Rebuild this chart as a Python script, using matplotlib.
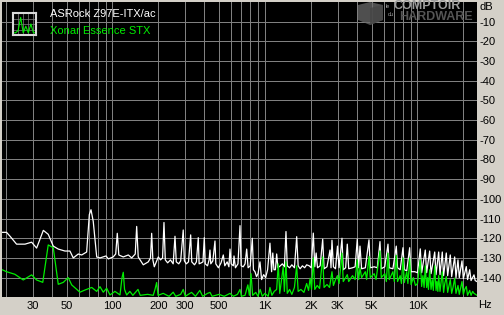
import matplotlib
matplotlib.use("Agg")
import matplotlib.pyplot as plt
from matplotlib.patches import Polygon

plt.rcParams['font.family'] = ['Liberation Sans', 'DejaVu Sans']

# noise spectrum, ASRock Z97E-ITX/ac (white)
white_hz = [18.9, 20.2, 21.3, 23.5, 26.7, 29.5, 31.8, 35.2, 37.9, 40.9,
            44.1, 48.8, 52.6, 55.3, 59.7, 62.8, 67.7, 70.5, 72.3, 74.8,
            78.8, 82.8, 90.7, 93.9, 101, 105, 107.5, 110, 117.7, 127,
            133.6, 141, 144.1, 147.5, 159.2, 171.7, 177.5, 180.7, 184, 188,
            199.7, 206.5, 213, 217.6, 222, 230, 240, 250, 257, 262,
            272, 280, 291, 296, 305, 315, 325.6, 331, 345, 355,
            365.2, 370, 382, 392, 399.9, 406, 420, 430, 435.8, 441,
            455, 470, 476, 495, 515, 532.9, 545, 565, 580, 589.6,
            600, 620, 626.3, 640, 665, 685.7, 698, 720, 740, 758.6,
            775, 800, 825.5, 840, 860, 880, 900, 927.3, 950, 980,
            1010, 1040, 1078, 1105, 1125, 1145, 1170, 1193, 1215, 1260,
            1300, 1340, 1373, 1400, 1450, 1500, 1560, 1614, 1650, 1700,
            1760, 1820, 1876, 1950, 2010, 2074, 2120, 2165, 2210, 2300,
            2390, 2440, 2550, 2670, 2710, 2750, 2810, 2900, 2988, 3060,
            3198, 3260, 3380, 3465, 3540, 3750, 3900, 4029, 4110, 4198,
            4300, 4550, 4808, 4900, 5200, 5450, 5677, 5790, 6100, 6406,
            6530, 6900, 7261, 7400, 7700, 8035, 8200, 8500, 8887, 9070,
            9600, 10000, 10430, 10650, 11250, 11480, 12020, 12270, 12970, 13230,
            13770, 14050, 14540, 14830, 15450, 15770, 16410, 16750, 17530, 17880,
            18430, 18800, 19580, 19980, 20890, 21300, 21990, 22450, 23470, 23900,
            24550]
white_db = [-117, -117, -119, -123, -123, -122, -125, -116, -118, -124,
            -125.5, -126.5, -126.5, -130, -128, -128.5, -127, -108, -105.5, -111.5,
            -129.5, -130, -129, -130.5, -129.5, -128, -117.5, -128.5, -129.5, -128.5,
            -130, -128, -114, -129.5, -133.5, -132, -130, -117.5, -131, -134.5,
            -129.5, -131, -130, -112, -131, -132.5, -131, -133, -119, -132,
            -133, -131.5, -115.8, -131.5, -133, -132, -118.3, -132, -133.5, -132,
            -119.7, -133, -132.5, -132, -119.7, -133, -134, -131, -126, -133,
            -131.5, -121.4, -133, -135, -132.5, -128.5, -134, -132, -134.5, -125.5,
            -133, -134, -129, -135, -133, -113.6, -134, -134.5, -133, -125.5,
            -135, -134, -120, -136, -137, -139.5, -138, -132, -141, -138.5,
            -140, -136, -122.5, -137, -127.5, -136, -136, -128, -135, -134,
            -133, -134.5, -116.6, -134, -135, -133.5, -135, -119.2, -134, -135.5,
            -134, -135, -133.5, -134, -135, -117.4, -134.5, -127.5, -135, -134,
            -120.5, -135.5, -134.5, -126, -135, -121, -134.5, -135.5, -124, -135,
            -120, -136, -135, -123, -135.5, -135, -134.5, -120.4, -135, -124,
            -135.5, -135, -120.8, -135, -134.5, -135, -121.7, -135.5, -134.5, -123,
            -135, -135.5, -124, -135, -136, -124.8, -136, -136.5, -124.8, -137,
            -137, -137.5, -125.4, -137.5, -126, -137.5, -126.5, -138, -127, -138.5,
            -127, -138.5, -127, -139, -127.5, -139, -128.5, -139.5, -129.5, -140,
            -131, -140, -131.5, -140.5, -134.4, -141, -136, -141.5, -138.6, -141.5,
            -142]

# noise spectrum, Xonar Essence STX (green)
green_hz = [18.9, 20.2, 22.9, 26, 29.5, 31.8, 34.9, 37.9, 40.9, 44.1,
            47.6, 51.3, 54, 61.2, 66, 73.1, 78.8, 82.8, 87, 91.6,
            96.3, 103.8, 112, 115.5, 117.7, 120, 123.9, 130, 136, 147,
            152, 170, 185, 190, 194.8, 199, 215, 235, 250, 260,
            280, 291, 300, 330, 350, 374, 390, 420, 436, 450,
            500, 540, 590, 620, 660, 686, 700, 740, 772, 790,
            810, 830, 870, 900, 930, 960, 1000, 1050, 1078, 1110,
            1150, 1193, 1222, 1250, 1317, 1340, 1373, 1400, 1450, 1500,
            1560, 1614, 1650, 1720, 1800, 1876, 1930, 1977, 2020, 2074,
            2120, 2200, 2280, 2390, 2440, 2550, 2650, 2750, 2810, 2900,
            2988, 3060, 3198, 3260, 3380, 3465, 3540, 3750, 3900, 4029,
            4110, 4198, 4300, 4550, 4640, 4808, 4900, 5200, 5350, 5677,
            5790, 6100, 6250, 6406, 6530, 6900, 7050, 7261, 7400, 7700,
            7850, 8035, 8200, 8500, 8650, 8887, 9070, 9400, 9700, 10000,
            10430, 10650, 10850, 11050, 11250, 11480, 11650, 11800, 12020, 12270,
            12500, 12700, 12970, 13230, 13400, 13600, 13770, 14050, 14300, 14540,
            14830, 15100, 15450, 15770, 16100, 16410, 16750, 17100, 17530, 17880,
            18430, 18800, 19580, 19980, 20400, 20890, 21300, 21990, 22450, 23000,
            23470, 24550]
green_db = [-136, -137, -138.3, -141.2, -138.6, -141.2, -142.4, -123.4, -124.8, -143.4,
            -142.4, -140, -143.7, -147.4, -146.3, -145, -147, -144.6, -147.4, -145.4,
            -148.8, -147, -148.8, -140, -137.3, -146, -148.8, -147, -149, -146,
            -149, -148.5, -149, -146, -142.5, -149, -148, -149.5, -147.4, -149.5,
            -148.5, -146, -149.5, -147.5, -149.5, -146.5, -149.5, -148, -147.5, -149.5,
            -148.5, -149.5, -148, -149.5, -148.5, -146, -149.5, -149, -143.7, -149,
            -138, -149, -147.5, -149.5, -146, -149.5, -148, -149.5, -145, -149,
            -147, -146, -133, -148, -134.5, -147, -132, -148, -146, -148.5,
            -145, -134, -147, -146, -147.5, -143, -146.5, -140.3, -146, -130,
            -146, -144, -145.5, -129.5, -145, -143.5, -145, -137, -144, -141,
            -139, -143, -127.6, -142, -140, -138.5, -142, -139, -141, -131,
            -141, -135, -140, -137, -141, -129.3, -140, -138, -141, -126.4,
            -140, -138, -142, -127.6, -141, -137, -142, -128.7, -142, -139,
            -143, -130, -142.5, -137, -143, -130.2, -143.5, -140, -144, -143,
            -131, -144.5, -139, -145, -134, -145, -140, -146, -136, -146,
            -141, -146.5, -134, -146.5, -142, -147, -139, -147, -142, -137,
            -147.5, -143, -139.5, -147.5, -144, -141, -148, -145, -140.3, -148,
            -144, -148.5, -142, -148.5, -146, -144.5, -149, -146.5, -149, -147,
            -148, -149]

grid_hz = [20, 30, 40, 50, 60, 70, 80, 90, 100, 200, 300, 400, 500, 600, 700,
           800, 900, 1000, 2000, 3000, 4000, 5000, 6000, 7000, 8000, 9000,
           10000, 20000]
label_hz = [30, 50, 100, 200, 300, 500, 1000, 2000, 3000, 5000, 10000]
label_txt = ['30', '50', '100', '200', '300', '500', '1K', '2K', '3K', '5K', '10K']
db_ticks = list(range(-10, -150, -10))

icon_db = [-9, -9, -8, -2, -9, -6, -9, -5, -9, -9]

W, H = 504, 315
FS = 8
fig = plt.figure(figsize=(W / 100, H / 100), dpi=100, facecolor='#d4d0c8')
ax = fig.add_axes([2 / W, 1 - 297.3 / H, 475 / W, 295.3 / H])
ax.set_facecolor('black')
ax.set_xscale('log')
ax.set_xlim(18.86, 24560)
ax.set_ylim(-150, 0)

for f in grid_hz:
    ax.axvline(f, color='#808080', lw=0.72, zorder=0)
for d in db_ticks:
    ax.axhline(d, color='#808080', lw=0.72, zorder=0)

ax.plot(white_hz, white_db, color='white', lw=0.9, zorder=2)
ax.plot(green_hz, green_db, color='#00ee00', lw=0.9, zorder=3)

for s in ax.spines.values():
    s.set_visible(False)

ax.set_xticks(label_hz, labels=label_txt)
ax.set_xticks([], minor=True)
ax.tick_params(axis='x', length=0, pad=3, labelsize=FS, colors='black')
ax.yaxis.tick_right()
ax.set_yticks(db_ticks, labels=[str(d) for d in db_ticks])
ax.tick_params(axis='y', length=0, pad=2, labelsize=FS, colors='black')

fig.text(480 / W, 1 - 7 / H, 'dB', fontsize=FS, va='center', ha='left')
fig.text(478 / W, 1 - 305.5 / H, 'Hz', fontsize=FS, va='center', ha='left')

# legend
fig.text(50 / W, 1 - 14 / H, 'ASRock Z97E-ITX/ac', color='white', fontsize=FS,
         va='center', ha='left')
fig.text(50 / W, 1 - 31.5 / H, 'Xonar Essence STX', color='#00ee00', fontsize=FS,
         va='center', ha='left')
iax = fig.add_axes([13 / W, 1 - 35 / H, 23 / W, 22 / H])
iax.set_facecolor('black')
iax.set_xlim(0, 9)
iax.set_ylim(-10, 0)
for v in [2, 4, 6, 8]:
    iax.axvline(v, color='#808080', lw=0.5)
for v in [-2.5, -5, -7.5]:
    iax.axhline(v, color='#808080', lw=0.5)
iax.plot(range(len(icon_db)), icon_db, color='#00ee00', lw=0.8)
iax.set_xticks([])
iax.set_yticks([])
for s in iax.spines.values():
    s.set_color('#d8d8d8')
    s.set_linewidth(1.5)

# watermark
def px(x, y):
    return (x / W, 1 - y / H)

fig.patches.append(Polygon([px(358, 5), px(370, 2), px(383, 5), px(383, 20),
                            px(370, 25), px(358, 20)], closed=True,
                           transform=fig.transFigure, facecolor='#6a6a6a',
                           edgecolor='none', alpha=0.75, zorder=5))
fig.patches.append(Polygon([px(370, 8), px(383, 5), px(383, 20), px(370, 25)],
                           closed=True, transform=fig.transFigure,
                           facecolor='#454545', edgecolor='none', alpha=0.8,
                           zorder=5))
fig.text(386 / W, 1 - 7 / H, 'le', color='#a0a0a0', fontsize=4, va='center',
         ha='left', zorder=6)
fig.text(388 / W, 1 - 14 / H, 'du', color='#a0a0a0', fontsize=4, va='center',
         ha='left', zorder=6)
fig.text(393 / W, 1 - 6 / H, 'COMPTOIR', color='#9c9c9c', fontsize=9,
         fontweight='bold', va='center', ha='left', zorder=6)
fig.text(399 / W, 1 - 17.5 / H, 'HARDWARE', color='#555555', fontsize=9,
         fontweight='bold', va='center', ha='left', zorder=6)

fig.savefig('out.png', dpi=100, facecolor=fig.get_facecolor())
